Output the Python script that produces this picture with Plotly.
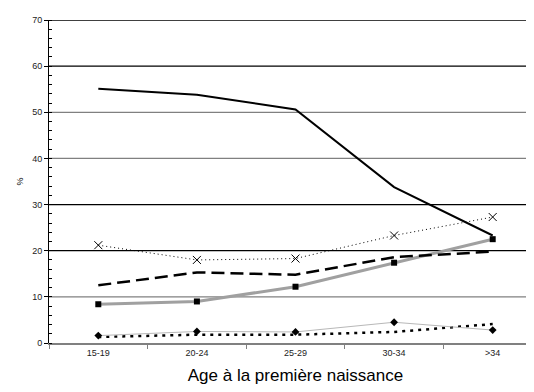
import plotly.graph_objects as go

categories = ["15-19", "20-24", "25-29", "30-34", ">34"]
s_solid = [55.1, 53.8, 50.6, 33.8, 23.3]
s_cross = [21.2, 18.0, 18.3, 23.3, 27.3]
s_dash = [12.5, 15.3, 14.8, 18.6, 19.8]
s_square = [8.4, 9.0, 12.2, 17.4, 22.5]
s_diamond = [1.6, 2.5, 2.4, 4.5, 2.8]
s_dot = [1.3, 1.8, 1.8, 2.4, 4.1]

grid_values = [10, 20, 30, 40, 50, 60, 70]
grid_colors = ["#808080", "#000000", "#000000", "#808080", "#808080", "#000000", "#000000"]

fig = go.Figure()

fig.add_trace(go.Scatter(x=categories, y=s_dot, mode="lines",
                         line=dict(color="black", width=2.5, dash="3px,5px")))
fig.add_trace(go.Scatter(x=categories, y=s_diamond, mode="lines+markers",
                         line=dict(color="#b8b8b8", width=1),
                         marker=dict(symbol="diamond", size=6, color="black")))
fig.add_trace(go.Scatter(x=categories, y=s_square, mode="lines+markers",
                         line=dict(color="#a0a0a0", width=3),
                         marker=dict(symbol="square", size=6, color="black")))
fig.add_trace(go.Scatter(x=categories, y=s_dash, mode="lines",
                         line=dict(color="black", width=2.5, dash="13px,6px")))
fig.add_trace(go.Scatter(x=categories, y=s_cross, mode="lines+markers",
                         line=dict(color="black", width=1, dash="1px,3px"),
                         marker=dict(symbol="x-thin-open", size=8,
                                     line=dict(color="black", width=1))))
fig.add_trace(go.Scatter(x=categories, y=s_solid, mode="lines",
                         line=dict(color="black", width=2)))

for v, c in zip(grid_values, grid_colors):
    fig.add_shape(type="line", xref="paper", x0=0, x1=1, yref="y", y0=v, y1=v,
                  line=dict(color=c, width=1.3), layer="below")

fig.update_layout(
    width=534, height=392,
    margin=dict(l=41, r=0, t=12, b=57),
    paper_bgcolor="white", plot_bgcolor="white",
    showlegend=False,
    font=dict(family="Liberation Sans, Arial, sans-serif", color="black", size=9),
)
fig.update_xaxes(
    type="category", range=[-0.5, 4.5], showgrid=False,
    showline=True, linecolor="#808080", linewidth=2,
    ticks="outside", tickson="boundaries", ticklen=4, tickcolor="#808080",
    tickfont=dict(size=9, color="#222"),
    title=dict(text="Age à la première naissance", font=dict(size=17), standoff=12),
)
fig.update_yaxes(
    range=[0, 70], dtick=10, showgrid=False, zeroline=False,
    showline=True, linecolor="black", linewidth=1,
    ticks="outside", ticklen=4, tickcolor="black",
    minor=dict(ticks="inside", dtick=2, ticklen=3, tickcolor="black"),
    tickfont=dict(size=9, color="#222"),
    title=dict(text="%", font=dict(size=9), standoff=7),
)

fig.write_html("out.html")
